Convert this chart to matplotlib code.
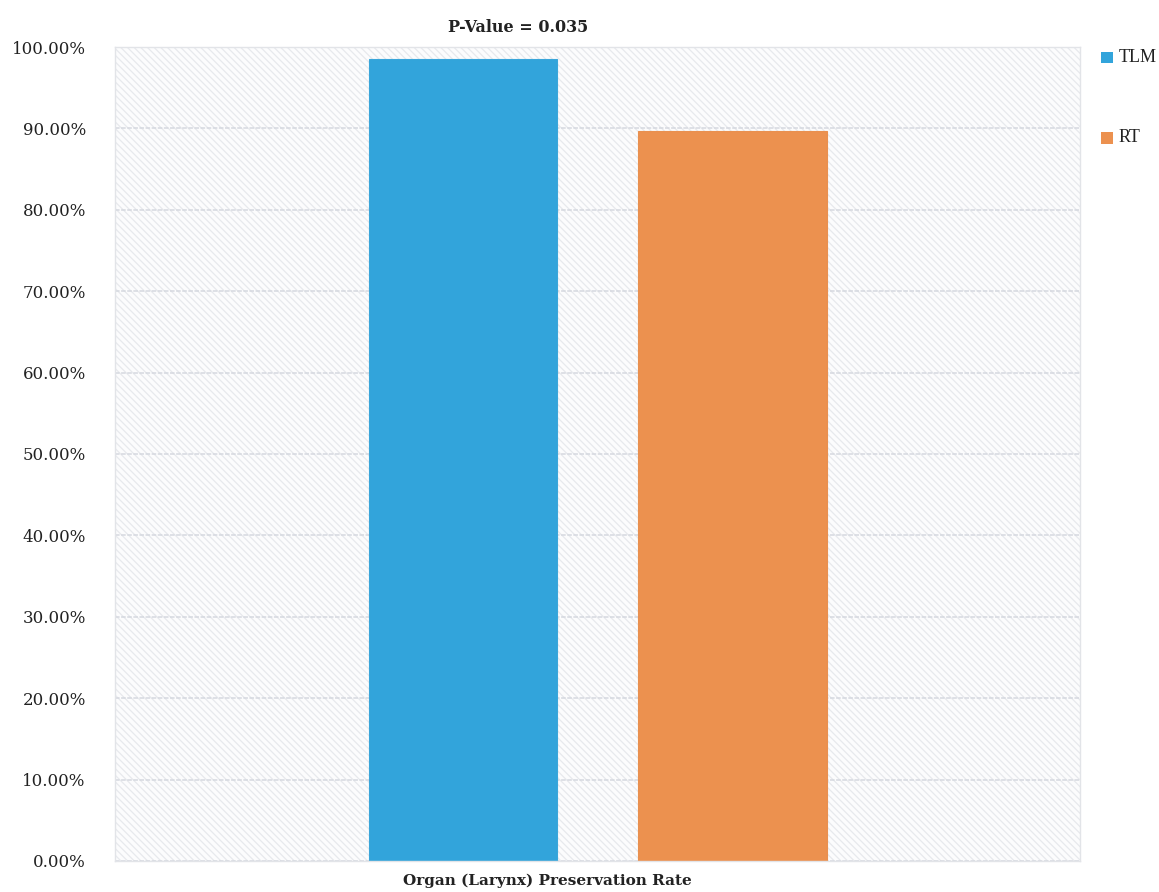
#!/usr/bin/env python3

import matplotlib
matplotlib.use("Agg")
import matplotlib.pyplot as plt
from matplotlib.patches import Rectangle

groups = ["TLM", "RT"]
preservation = [98.5, 89.7]
colors = ["#32a4db", "#ec914f"]
yticks = [0, 10, 20, 30, 40, 50, 60, 70, 80, 90, 100]


def main():
    plt.rcParams["hatch.linewidth"] = 0.9
    plt.rcParams["hatch.color"] = "#e7e9ed"

    fig = plt.figure(figsize=(11.59, 8.92), dpi=100)
    ax = fig.add_axes([0.0992, 0.0348, 0.8326, 0.9125])

    # hatched plot background
    ax.add_patch(Rectangle((0, 0), 1, 1, transform=ax.transAxes,
                           facecolor="#fcfcfd", edgecolor="#e7e9ed",
                           hatch="\\\\\\\\\\", linewidth=0, zorder=0))

    for y in yticks:
        ax.axhline(y, color="#d5d8df", linewidth=1.1,
                   linestyle=(0, (3, 1)), zorder=1)

    x = list(range(len(groups)))
    ax.bar(x, preservation, width=0.7, color=colors,
           edgecolor=["#3aa6da", "#e9904f"], linewidth=0.8, zorder=2)

    ax.set_xlim(-1.291, 2.289)
    ax.set_ylim(0, 100)
    ax.set_xticks([])
    ax.set_yticks(yticks)
    ax.set_yticklabels([f"{v:.2f}%" for v in yticks],
                       family="DejaVu Serif", fontsize=12, color="#222222")
    ax.tick_params(axis="y", length=0, pad=21)
    for side in ["top", "right", "bottom", "left"]:
        ax.spines[side].set_color("#e2e4e8")
        ax.spines[side].set_linewidth(1)

    fig.text(0.447, 0.969, "P-Value = 0.035", ha="center", va="center",
             family="DejaVu Serif", fontweight="bold", fontsize=11.5,
             color="#222222")
    fig.text(0.472, 0.013, "Organ (Larynx) Preservation Rate", ha="center",
             va="center", family="DejaVu Serif", fontweight="bold",
             fontsize=11, color="#222222")

    # legend entries placed down the right margin
    legend_y = [0.936, 0.846]
    for name, color, ly in zip(groups, colors, legend_y):
        fig.patches.append(Rectangle((0.9500, ly - 0.007), 0.0100, 0.0130,
                                     transform=fig.transFigure,
                                     facecolor=color, edgecolor="none"))
        fig.text(0.9650, ly, name, ha="left", va="center",
                 family="Liberation Serif", fontsize=13, color="#222222")

    fig.savefig("out.png", dpi=100)


if __name__ == "__main__":
    main()
